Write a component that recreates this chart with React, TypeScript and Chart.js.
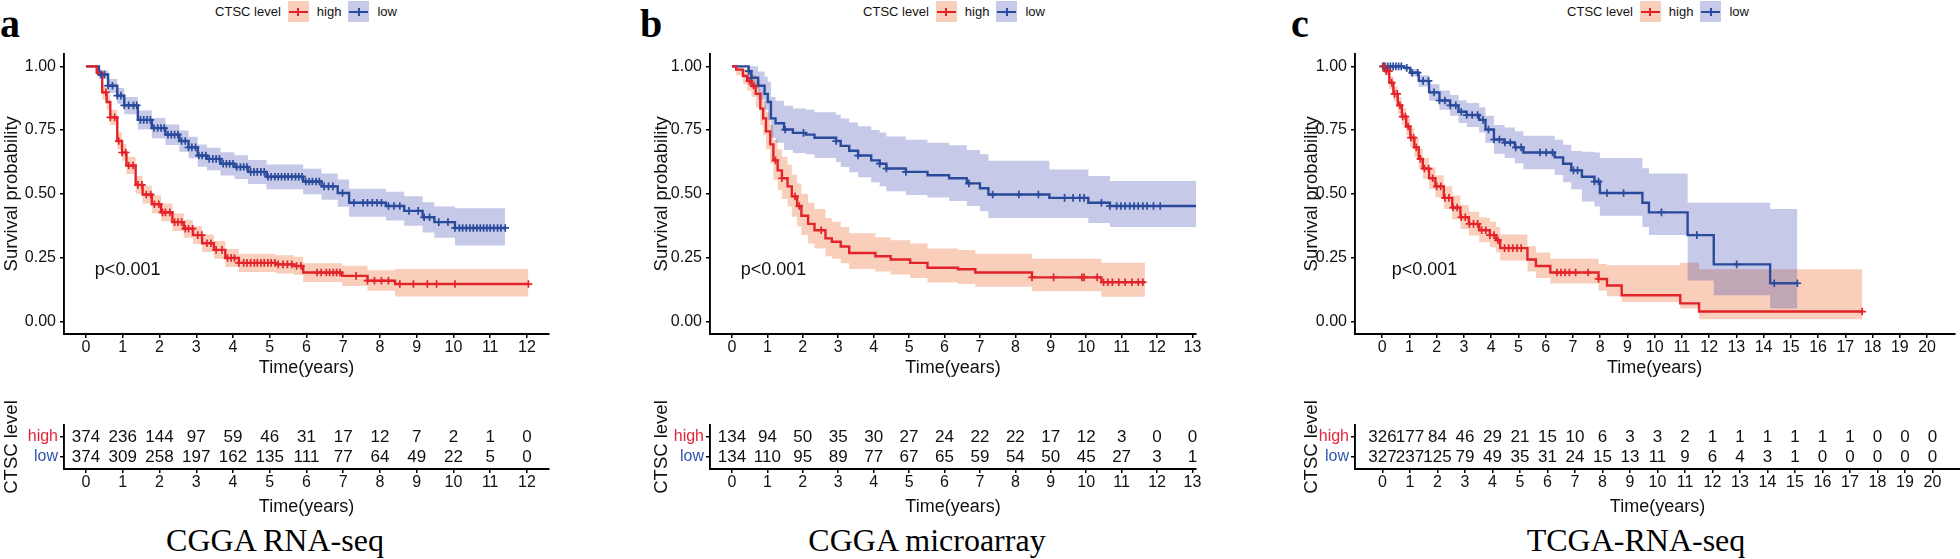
import React, { useEffect, useRef } from 'react';
import { Chart, registerables } from 'chart.js';
Chart.register(...registerables);

const SANS = "'Liberation Sans', Arial, Helvetica, sans-serif";
const SERIF = "'Liberation Serif', 'Times New Roman', Times, serif";

const RED = '#E3232A';
const BLUE = '#2A4A9C';
const RED_BAND = 'rgba(240,130,80,0.38)';
const BLUE_BAND = 'rgba(50,60,170,0.28)';
const RED_TXT = '#E2263A';
const BLUE_TXT = '#2F55B0';

// ---------------- Panel a : CGGA RNA-seq ----------------
const A_TIME_TICKS = [0, 1, 2, 3, 4, 5, 6, 7, 8, 9, 10, 11, 12];
const A_HIGH_T = [0, 0.29, 0.44, 0.56, 0.66, 0.85, 0.98, 1.1, 1.35, 1.54, 1.79, 2.04, 2.35, 2.66, 2.91, 3.16, 3.48, 3.79, 4.16, 5.16, 5.66, 5.91, 6.97, 7.66, 8.41, 12.04];
const A_HIGH_S = [1, 0.975, 0.898, 0.86, 0.8, 0.707, 0.662, 0.611, 0.535, 0.497, 0.459, 0.427, 0.389, 0.363, 0.338, 0.306, 0.28, 0.248, 0.229, 0.223, 0.217, 0.191, 0.178, 0.159, 0.146, 0.146];
const A_HIGH_U = [1, 0.99, 0.925, 0.89, 0.83, 0.74, 0.695, 0.645, 0.57, 0.532, 0.494, 0.462, 0.424, 0.398, 0.373, 0.34, 0.315, 0.283, 0.265, 0.259, 0.253, 0.228, 0.218, 0.2, 0.205, 0.205];
const A_HIGH_L = [1, 0.96, 0.87, 0.83, 0.77, 0.675, 0.63, 0.578, 0.5, 0.462, 0.424, 0.392, 0.354, 0.328, 0.303, 0.272, 0.245, 0.213, 0.193, 0.187, 0.181, 0.154, 0.138, 0.12, 0.097, 0.097];
const A_HIGH_C = [0.54, 0.66, 0.78, 0.89, 0.98, 1.08, 1.16, 1.28, 1.41, 1.52, 1.64, 1.76, 1.86, 1.98, 2.08, 2.16, 2.28, 2.41, 2.5, 2.6, 2.7, 2.79, 2.9, 3.04, 3.15, 3.29, 3.4, 3.54, 3.7, 3.85, 3.95, 4.04, 4.16, 4.29, 4.38, 4.48, 4.58, 4.66, 4.76, 4.85, 4.95, 5.04, 5.14, 5.23, 5.36, 5.48, 5.6, 5.73, 5.85, 6.29, 6.4, 6.54, 6.63, 6.73, 6.82, 6.91, 7.35, 7.66, 7.85, 8.04, 8.23, 8.54, 8.91, 9.29, 9.54, 10.04, 12.04];
const A_LOW_T = [0, 0.35, 0.6, 0.85, 1.04, 1.41, 1.79, 2.16, 2.54, 2.79, 3.04, 3.29, 3.66, 4.04, 4.41, 4.91, 5.91, 6.41, 6.85, 7.16, 8.16, 8.66, 9.16, 9.48, 10.04, 11.41];
const A_LOW_S = [1, 0.968, 0.924, 0.885, 0.847, 0.79, 0.758, 0.732, 0.707, 0.682, 0.65, 0.637, 0.618, 0.605, 0.586, 0.567, 0.548, 0.529, 0.503, 0.465, 0.452, 0.433, 0.408, 0.389, 0.366, 0.366];
const A_LOW_U = [1, 0.985, 0.95, 0.915, 0.88, 0.827, 0.797, 0.772, 0.748, 0.724, 0.693, 0.681, 0.663, 0.651, 0.633, 0.615, 0.598, 0.58, 0.556, 0.52, 0.508, 0.49, 0.467, 0.45, 0.443, 0.443];
const A_LOW_L = [1, 0.95, 0.895, 0.853, 0.812, 0.752, 0.718, 0.691, 0.665, 0.639, 0.606, 0.592, 0.572, 0.558, 0.538, 0.518, 0.498, 0.477, 0.449, 0.41, 0.395, 0.375, 0.348, 0.328, 0.297, 0.297];
const A_LOW_C = [0.41, 0.5, 0.6, 0.72, 0.85, 0.95, 1.04, 1.16, 1.29, 1.38, 1.48, 1.57, 1.66, 1.75, 1.85, 1.95, 2.04, 2.13, 2.23, 2.32, 2.41, 2.5, 2.6, 2.7, 2.79, 2.88, 2.98, 3.07, 3.16, 3.26, 3.35, 3.45, 3.54, 3.63, 3.73, 3.82, 3.91, 4.0, 4.1, 4.2, 4.29, 4.38, 4.48, 4.57, 4.66, 4.76, 4.85, 4.95, 5.04, 5.14, 5.23, 5.32, 5.41, 5.5, 5.6, 5.7, 5.79, 5.88, 5.98, 6.07, 6.16, 6.26, 6.35, 6.48, 6.6, 6.72, 6.98, 7.29, 7.54, 7.66, 7.79, 7.92, 8.04, 8.23, 8.38, 8.54, 8.79, 9.04, 9.2, 9.35, 9.6, 9.85, 10.04, 10.16, 10.25, 10.35, 10.45, 10.54, 10.64, 10.73, 10.82, 10.91, 11.0, 11.1, 11.2, 11.29, 11.41];
const A_RISK_HIGH = [374, 236, 144, 97, 59, 46, 31, 17, 12, 7, 2, 1, 0];
const A_RISK_LOW = [374, 309, 258, 197, 162, 135, 111, 77, 64, 49, 22, 5, 0];

// ---------------- Panel b : CGGA microarray ----------------
const B_TIME_TICKS = [0, 1, 2, 3, 4, 5, 6, 7, 8, 9, 10, 11, 12, 13];
const B_HIGH_T = [0, 0.12, 0.31, 0.43, 0.55, 0.67, 0.8, 0.88, 0.96, 1.08, 1.17, 1.29, 1.41, 1.57, 1.69, 1.84, 1.96, 2.15, 2.33, 2.64, 2.82, 3.07, 3.31, 4.05, 4.48, 5.03, 5.52, 6.38, 6.87, 8.47, 10.43, 11.66];
const B_HIGH_S = [1, 0.987, 0.962, 0.943, 0.924, 0.892, 0.834, 0.796, 0.745, 0.694, 0.631, 0.592, 0.561, 0.529, 0.49, 0.452, 0.414, 0.382, 0.357, 0.325, 0.312, 0.293, 0.268, 0.255, 0.242, 0.229, 0.21, 0.204, 0.191, 0.172, 0.153, 0.153];
const B_HIGH_U = [1, 1, 0.99, 0.98, 0.965, 0.945, 0.9, 0.865, 0.82, 0.77, 0.71, 0.675, 0.645, 0.615, 0.575, 0.54, 0.5, 0.465, 0.44, 0.405, 0.39, 0.37, 0.345, 0.33, 0.318, 0.305, 0.285, 0.28, 0.265, 0.245, 0.23, 0.23];
const B_HIGH_L = [1, 0.965, 0.93, 0.905, 0.88, 0.84, 0.77, 0.73, 0.675, 0.62, 0.555, 0.515, 0.48, 0.45, 0.41, 0.372, 0.338, 0.305, 0.285, 0.255, 0.245, 0.228, 0.205, 0.195, 0.183, 0.17, 0.152, 0.146, 0.135, 0.118, 0.096, 0.096];
const B_HIGH_C = [0.49, 0.61, 1.23, 1.41, 1.78, 1.9, 2.52, 8.47, 9.08, 9.88, 9.94, 10.31, 10.49, 10.61, 10.74, 10.92, 11.1, 11.29, 11.47, 11.6];
const B_LOW_T = [0, 0.47, 0.55, 0.74, 0.92, 1.01, 1.1, 1.23, 1.47, 1.72, 2.09, 2.33, 2.94, 3.07, 3.31, 3.56, 3.93, 4.17, 4.36, 4.91, 5.52, 6.13, 6.63, 7.0, 7.24, 8.96, 10.06, 10.67, 13.1];
const B_LOW_S = [1, 0.981, 0.955, 0.924, 0.892, 0.86, 0.796, 0.777, 0.752, 0.739, 0.732, 0.72, 0.707, 0.688, 0.669, 0.65, 0.631, 0.618, 0.599, 0.586, 0.573, 0.561, 0.541, 0.522, 0.497, 0.484, 0.465, 0.452, 0.452];
const B_LOW_U = [1, 1, 1, 0.98, 0.96, 0.94, 0.88, 0.865, 0.845, 0.835, 0.83, 0.82, 0.81, 0.795, 0.78, 0.765, 0.75, 0.74, 0.725, 0.712, 0.7, 0.69, 0.672, 0.655, 0.63, 0.595, 0.57, 0.55, 0.55];
const B_LOW_L = [1, 0.95, 0.915, 0.87, 0.83, 0.79, 0.72, 0.7, 0.672, 0.66, 0.655, 0.64, 0.625, 0.605, 0.585, 0.565, 0.545, 0.53, 0.51, 0.495, 0.485, 0.472, 0.452, 0.432, 0.405, 0.405, 0.385, 0.37, 0.37];
const B_LOW_C = [0.47, 0.55, 1.5, 2.02, 2.94, 3.56, 4.17, 4.36, 4.91, 6.69, 7.36, 8.1, 8.65, 9.39, 9.63, 9.82, 9.94, 10.43, 10.67, 10.86, 10.98, 11.1, 11.23, 11.35, 11.47, 11.6, 11.72, 11.9, 12.09];
const B_RISK_HIGH = [134, 94, 50, 35, 30, 27, 24, 22, 22, 17, 12, 3, 0, 0];
const B_RISK_LOW = [134, 110, 95, 89, 77, 67, 65, 59, 54, 50, 45, 27, 3, 1];

// ---------------- Panel c : TCGA-RNA-seq ----------------
const C_TIME_TICKS = [0, 1, 2, 3, 4, 5, 6, 7, 8, 9, 10, 11, 12, 13, 14, 15, 16, 17, 18, 19, 20];
const C_HIGH_T = [0, 0.11, 0.26, 0.41, 0.57, 0.72, 0.88, 1.03, 1.18, 1.34, 1.49, 1.72, 1.95, 2.26, 2.57, 2.87, 3.18, 3.56, 3.95, 4.18, 4.33, 5.33, 5.64, 6.17, 7.94, 8.25, 8.79, 10.94, 11.63, 17.62];
const C_HIGH_S = [1, 0.981, 0.936, 0.892, 0.847, 0.803, 0.764, 0.72, 0.682, 0.637, 0.599, 0.561, 0.529, 0.484, 0.446, 0.408, 0.382, 0.357, 0.338, 0.318, 0.287, 0.242, 0.217, 0.191, 0.166, 0.14, 0.102, 0.07, 0.038, 0.038];
const C_HIGH_U = [1, 1, 0.96, 0.92, 0.878, 0.836, 0.798, 0.757, 0.72, 0.677, 0.64, 0.603, 0.573, 0.53, 0.493, 0.456, 0.43, 0.407, 0.39, 0.37, 0.34, 0.295, 0.27, 0.245, 0.225, 0.22, 0.22, 0.23, 0.204, 0.204];
const C_HIGH_L = [1, 0.965, 0.91, 0.862, 0.815, 0.77, 0.73, 0.683, 0.644, 0.598, 0.558, 0.519, 0.485, 0.44, 0.4, 0.362, 0.336, 0.31, 0.29, 0.27, 0.238, 0.195, 0.17, 0.148, 0.12, 0.098, 0.076, 0.05, 0.008, 0.008];
const C_HIGH_C = [0.05, 0.15, 0.25, 0.35, 0.45, 0.55, 0.65, 0.75, 0.85, 0.95, 1.05, 1.15, 1.25, 1.4, 1.55, 1.7, 1.85, 2.0, 2.15, 2.3, 2.45, 2.6, 2.75, 2.9, 3.05, 3.2, 3.35, 3.5, 3.65, 3.8, 3.95, 4.1, 4.25, 4.49, 4.64, 4.79, 4.95, 5.1, 6.41, 6.56, 6.71, 6.87, 7.1, 7.56, 7.94, 17.62];
const C_LOW_T = [0, 0.8, 1.03, 1.34, 1.72, 2.1, 2.49, 2.8, 3.1, 3.56, 3.79, 4.1, 4.49, 4.87, 5.18, 6.33, 6.64, 6.94, 7.33, 7.79, 7.99, 9.55, 9.79, 11.21, 12.17, 14.24, 15.24];
const C_LOW_S = [1, 0.994, 0.975, 0.943, 0.898, 0.866, 0.847, 0.822, 0.809, 0.79, 0.752, 0.713, 0.701, 0.682, 0.662, 0.643, 0.618, 0.592, 0.567, 0.548, 0.503, 0.465, 0.427, 0.338, 0.223, 0.149, 0.149];
const C_LOW_U = [1, 1, 0.99, 0.965, 0.93, 0.905, 0.888, 0.867, 0.856, 0.84, 0.806, 0.77, 0.76, 0.745, 0.728, 0.712, 0.692, 0.668, 0.665, 0.662, 0.64, 0.6, 0.58, 0.465, 0.465, 0.44, 0.44];
const C_LOW_L = [1, 0.985, 0.96, 0.92, 0.865, 0.83, 0.806, 0.778, 0.762, 0.74, 0.7, 0.657, 0.64, 0.62, 0.596, 0.574, 0.545, 0.518, 0.47, 0.45, 0.414, 0.37, 0.338, 0.16, 0.102, 0.05, 0.05];
const C_LOW_C = [0.02, 0.1, 0.2, 0.3, 0.4, 0.5, 0.6, 0.7, 0.9, 1.1, 1.3, 1.5, 1.7, 1.9, 2.1, 2.3, 2.5, 2.7, 2.9, 3.1, 3.3, 3.5, 3.7, 3.9, 4.1, 4.3, 4.5, 4.7, 4.9, 5.1, 5.79, 6.02, 6.25, 7.02, 7.17, 7.79, 7.94, 8.25, 8.86, 10.25, 11.55, 13.01, 14.39, 15.24];
const C_RISK_HIGH = [326, 177, 84, 46, 29, 21, 15, 10, 6, 3, 3, 2, 1, 1, 1, 1, 1, 1, 0, 0, 0];
const C_RISK_LOW = [327, 237, 125, 79, 49, 35, 31, 24, 15, 13, 11, 9, 6, 4, 3, 1, 0, 0, 0, 0, 0];

const Y_TICKS = [0, 0.25, 0.5, 0.75, 1];
const P_TEXT = 'p<0.001';

type Curve = { T: number[]; S: number[]; U: number[]; L: number[]; C: number[] };

const PANELS = [
  {
    letter: 'a', letterX: 0, caption: 'CGGA RNA-seq', captionX: 275, legendX: 306,
    left: 0, width: 560, plotLeft: 64, plotRight: 549, xMin: -0.6, xMax: 12.6,
    ticks: A_TIME_TICKS, pX: 0.24,
    high: { T: A_HIGH_T, S: A_HIGH_S, U: A_HIGH_U, L: A_HIGH_L, C: A_HIGH_C },
    low: { T: A_LOW_T, S: A_LOW_S, U: A_LOW_U, L: A_LOW_L, C: A_LOW_C },
    riskHigh: A_RISK_HIGH, riskLow: A_RISK_LOW,
  },
  {
    letter: 'b', letterX: 640, caption: 'CGGA microarray', captionX: 927, legendX: 954,
    left: 650, width: 560, plotLeft: 710, plotRight: 1196, xMin: -0.62, xMax: 13.1,
    ticks: B_TIME_TICKS, pX: 0.25,
    high: { T: B_HIGH_T, S: B_HIGH_S, U: B_HIGH_U, L: B_HIGH_L, C: B_HIGH_C },
    low: { T: B_LOW_T, S: B_LOW_S, U: B_LOW_U, L: B_LOW_L, C: B_LOW_C },
    riskHigh: B_RISK_HIGH, riskLow: B_RISK_LOW,
  },
  {
    letter: 'c', letterX: 1291, caption: 'TCGA-RNA-seq', captionX: 1636, legendX: 1658,
    left: 1300, width: 660, plotLeft: 1355, plotRight: 1960, xMin: -1, xMax: 21,
    ticks: C_TIME_TICKS, pX: 0.35,
    high: { T: C_HIGH_T, S: C_HIGH_S, U: C_HIGH_U, L: C_HIGH_L, C: C_HIGH_C },
    low: { T: C_LOW_T, S: C_LOW_S, U: C_LOW_U, L: C_LOW_L, C: C_LOW_C },
    riskHigh: C_RISK_HIGH, riskLow: C_RISK_LOW,
  },
];

// layout (page pixels)
const KM_TOP = 40;
const KM_BOTTOM = 380;
const PLOT_TOP = 47;
const PLOT_BOTTOM = 334;
const TAB_TOP = 384;
const TAB_AREA_TOP = 425;
const TAB_AREA_BOTTOM = 469;
const TAB_BOTTOM = 519;

function stepAt(T: number[], S: number[], t: number) {
  let v = S[0];
  for (let i = 0; i < T.length; i++) {
    if (T[i] <= t) v = S[i];
    else break;
  }
  return v;
}

function curveDatasets(c: Curve, line: string, band: string, bandOrder: number) {
  const pts = (arr: number[]) => c.T.map((t, i) => ({ x: t, y: arr[i] }));
  return [
    { data: pts(c.U), stepped: true, borderColor: 'rgba(0,0,0,0)', borderWidth: 0, pointRadius: 0, fill: '+1', backgroundColor: band, order: bandOrder },
    { data: pts(c.L), stepped: true, borderColor: 'rgba(0,0,0,0)', borderWidth: 0, pointRadius: 0, fill: false, order: bandOrder },
    { data: pts(c.S), stepped: true, borderColor: line, borderWidth: 2.4, pointRadius: 0, fill: false, order: 1 },
    {
      data: c.C.map((t) => ({ x: t, y: stepAt(c.T, c.S, t) })),
      showLine: false, pointStyle: 'cross', pointRadius: 3.8, pointBorderWidth: 1.7,
      pointBorderColor: line, pointBackgroundColor: line, fill: false, order: 0,
    },
  ];
}

const axisCommon = {
  grid: { display: true, drawOnChartArea: false, drawTicks: true, tickLength: 4, color: '#000', lineWidth: 1.5 },
  border: { display: true, color: '#000', width: 1.9 },
};

function xScale(p: any, height: number) {
  return {
    type: 'linear', min: p.xMin, max: p.xMax,
    afterBuildTicks: (s: any) => { s.ticks = p.ticks.map((v: number) => ({ value: v })); },
    afterFit: (s: any) => { s.height = height; },
    ticks: { color: '#111', font: { size: 16, family: SANS }, padding: 0, autoSkip: false, maxRotation: 0, callback: (v: any) => String(v) },
    title: { display: true, text: 'Time(years)', color: '#111', font: { size: 18, family: SANS }, padding: { top: 0, bottom: 1 } },
    ...axisCommon,
  };
}

function Panel({ p }: { p: any }) {
  const kmRef = useRef<HTMLCanvasElement>(null);
  const tabRef = useRef<HTMLCanvasElement>(null);

  useEffect(() => {
    const yW = p.plotLeft - p.left;
    const padR = p.width - (p.plotRight - p.left);
    const pPlugin = {
      id: 'pval',
      afterDatasetsDraw(chart: any) {
        const ctx = chart.ctx;
        ctx.save();
        ctx.font = `18px ${SANS}`;
        ctx.fillStyle = '#111';
        ctx.textAlign = 'left';
        ctx.textBaseline = 'middle';
        ctx.fillText(P_TEXT, chart.scales.x.getPixelForValue(p.pX), chart.scales.y.getPixelForValue(0.2));
        ctx.restore();
      },
    };
    const km = new Chart(kmRef.current as HTMLCanvasElement, {
      type: 'line',
      data: {
        datasets: [
          ...curveDatasets(p.high, RED, RED_BAND, 3),
          ...curveDatasets(p.low, BLUE, BLUE_BAND, 2),
        ] as any,
      },
      options: {
        animation: false, responsive: false, maintainAspectRatio: false, events: [],
        layout: { padding: { top: PLOT_TOP - KM_TOP, right: padR, left: 0, bottom: 0 } },
        plugins: { legend: { display: false }, tooltip: { enabled: false } },
        scales: {
          x: xScale(p, KM_BOTTOM - PLOT_BOTTOM),
          y: {
            type: 'linear', min: -0.05, max: 1.05,
            afterBuildTicks: (s: any) => { s.ticks = Y_TICKS.map((v) => ({ value: v })); },
            afterFit: (s: any) => { s.width = yW; },
            ticks: { color: '#111', font: { size: 16, family: SANS }, padding: 4, callback: (v: any) => Number(v).toFixed(2) },
            title: { display: true, text: 'Survival probability', color: '#111', font: { size: 18.5, family: SANS }, padding: { top: 1, bottom: 0 } },
            ...axisCommon,
          },
        },
      } as any,
      plugins: [pPlugin],
    });

    const riskPlugin = {
      id: 'risk',
      afterDraw(chart: any) {
        const ctx = chart.ctx;
        const xs = chart.scales.x;
        const ys = chart.scales.y;
        ctx.save();
        ctx.font = `17px ${SANS}`;
        ctx.fillStyle = '#111';
        ctx.textAlign = 'center';
        ctx.textBaseline = 'middle';
        p.ticks.forEach((t: number, i: number) => {
          ctx.fillText(String(p.riskHigh[i]), xs.getPixelForValue(t), ys.getPixelForValue(2));
          ctx.fillText(String(p.riskLow[i]), xs.getPixelForValue(t), ys.getPixelForValue(1));
        });
        ctx.restore();
      },
    };
    const tab = new Chart(tabRef.current as HTMLCanvasElement, {
      type: 'line',
      data: { datasets: [] },
      options: {
        animation: false, responsive: false, maintainAspectRatio: false, events: [],
        layout: { padding: { top: TAB_AREA_TOP - TAB_TOP, right: padR, left: 0, bottom: 0 } },
        plugins: { legend: { display: false }, tooltip: { enabled: false } },
        scales: {
          x: xScale(p, TAB_BOTTOM - TAB_AREA_BOTTOM),
          y: {
            type: 'linear', min: 0.4, max: 2.6,
            afterBuildTicks: (s: any) => { s.ticks = [{ value: 1 }, { value: 2 }]; },
            afterFit: (s: any) => { s.width = yW; },
            ticks: {
              font: { size: 16, family: SANS }, padding: 2,
              color: (c: any) => (c.tick && c.tick.value === 2 ? RED_TXT : BLUE_TXT),
              callback: (v: any) => (Number(v) === 2 ? 'high' : 'low'),
            },
            title: { display: true, text: 'CTSC level', color: '#111', font: { size: 18.5, family: SANS }, padding: { top: 1, bottom: 0 } },
            ...axisCommon,
          },
        },
      } as any,
      plugins: [riskPlugin],
    });
    return () => { km.destroy(); tab.destroy(); };
  }, [p]);

  const key = (line: string, band: string) => (
    <div style={{ position: 'relative', width: 21, height: 21, background: band, marginLeft: 7, marginRight: 8 }}>
      <div style={{ position: 'absolute', left: 1, right: 1, top: 10, height: 2.2, background: line }} />
      <div style={{ position: 'absolute', left: 9.5, width: 2, top: 7, height: 8, background: line }} />
    </div>
  );

  return (
    <>
      <div style={{ position: 'absolute', left: p.letterX, top: 4, font: `bold 40px ${SERIF}`, lineHeight: '40px', color: '#000' }}>{p.letter}</div>
      <div style={{ position: 'absolute', left: p.legendX - 150, width: 300, top: 1, height: 21, display: 'flex', justifyContent: 'center', alignItems: 'center', font: `13px ${SANS}`, color: '#111', whiteSpace: 'nowrap' }}>
        <span>CTSC level</span>
        {key(RED, RED_BAND)}
        <span>high</span>
        {key(BLUE, BLUE_BAND)}
        <span>low</span>
      </div>
      <canvas ref={kmRef} width={p.width} height={KM_BOTTOM - KM_TOP}
        style={{ position: 'absolute', left: p.left, top: KM_TOP, width: p.width, height: KM_BOTTOM - KM_TOP }} />
      <canvas ref={tabRef} width={p.width} height={TAB_BOTTOM - TAB_TOP}
        style={{ position: 'absolute', left: p.left, top: TAB_TOP, width: p.width, height: TAB_BOTTOM - TAB_TOP }} />
      <div style={{ position: 'absolute', left: p.captionX - 200, width: 400, top: 524, textAlign: 'center', font: `32px ${SERIF}`, lineHeight: '32px', color: '#000', whiteSpace: 'nowrap' }}>{p.caption}</div>
    </>
  );
}

export default function App() {
  return (
    <div style={{ position: 'absolute', left: 0, top: 0, width: 1960, height: 559, background: '#fff', overflow: 'hidden' }}>
      {PANELS.map((p, i) => <Panel key={i} p={p} />)}
    </div>
  );
}
